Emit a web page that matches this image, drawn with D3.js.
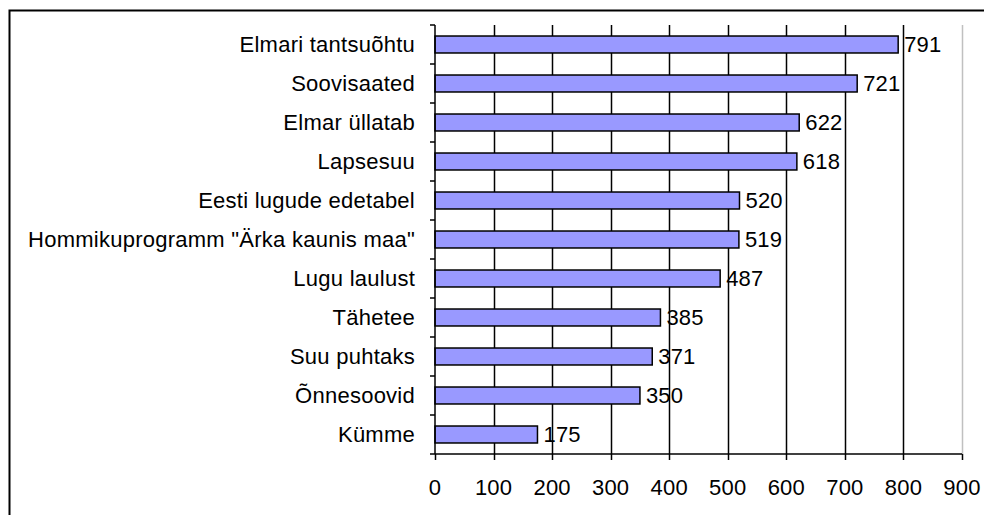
<!DOCTYPE html>
<html>
<head>
<meta charset="utf-8">
<script src="https://cdn.jsdelivr.net/npm/d3@7"></script>
<style>
  body { margin: 0; background: #fff; }
  svg { display: block; font-family: "Liberation Sans", Arial, sans-serif; }
</style>
</head>
<body>
<svg id="chart" width="984" height="515"></svg>
<script>
"use strict";

var categories = [
  "Elmari tantsuõhtu",
  "Soovisaated",
  "Elmar üllatab",
  "Lapsesuu",
  "Eesti lugude edetabel",
  "Hommikuprogramm \"Ärka kaunis maa\"",
  "Lugu laulust",
  "Tähetee",
  "Suu puhtaks",
  "Õnnesoovid",
  "Kümme"
];
var values = [791, 721, 622, 618, 520, 519, 487, 385, 371, 350, 175];
var xTicks = [0, 100, 200, 300, 400, 500, 600, 700, 800, 900];

var svg = d3.select("#chart");
var fontSize = 22;

// outer frame, runs off the right and bottom edge like the source
svg.append("path")
  .attr("d", "M9.5,1000 L9.5,10.5 L1000,10.5")
  .attr("fill", "none")
  .attr("stroke", "#000")
  .attr("stroke-width", 2);

var plotLeft = 435, plotRight = 962, plotTop = 25, plotBottom = 454;

var x = d3.scaleLinear().domain([0, 900]).range([plotLeft, plotRight]);
var y = d3.scaleBand().domain(categories).range([plotTop, plotBottom])
  .paddingInner(0.565).paddingOuter(0.2825);

// gridlines
svg.append("g").selectAll("line")
  .data(xTicks.slice(1))
  .enter().append("line")
  .attr("x1", function(d) { return Math.round(x(d)) + 0.5; })
  .attr("x2", function(d) { return Math.round(x(d)) + 0.5; })
  .attr("y1", plotTop)
  .attr("y2", plotBottom)
  .attr("stroke", function(d) { return d === 900 ? "#c0c0c0" : "#000"; })
  .attr("stroke-width", 1.5);

// bars
svg.append("g").selectAll("rect")
  .data(values)
  .enter().append("rect")
  .attr("x", x(0))
  .attr("y", function(d, i) { return y(categories[i]); })
  .attr("width", function(d) { return x(d) - x(0); })
  .attr("height", y.bandwidth())
  .attr("fill", "#9999ff")
  .attr("stroke", "#000")
  .attr("stroke-width", 1.5);

// value labels
svg.append("g").selectAll("text")
  .data(values)
  .enter().append("text")
  .attr("x", function(d) { return x(d) + 6; })
  .attr("y", function(d, i) { return y(categories[i]) + y.bandwidth() / 2; })
  .attr("dy", "0.36em")
  .attr("font-size", fontSize)
  .attr("letter-spacing", "0.2px")
  .text(function(d) { return d; });

// y axis
var yAxis = svg.append("g")
  .attr("transform", "translate(" + plotLeft + ",0)");
yAxis.append("line")
  .attr("x1", 0).attr("x2", 0)
  .attr("y1", plotTop).attr("y2", plotBottom)
  .attr("stroke", "#000").attr("stroke-width", 1.5);
var bandStep = (plotBottom - plotTop) / categories.length;
yAxis.selectAll(".tick")
  .data(d3.range(categories.length + 1))
  .enter().append("line")
  .attr("x1", -5).attr("x2", 0)
  .attr("y1", function(i) { return plotTop + i * bandStep; })
  .attr("y2", function(i) { return plotTop + i * bandStep; })
  .attr("stroke", "#000").attr("stroke-width", 1.5);
yAxis.selectAll("text")
  .data(categories)
  .enter().append("text")
  .attr("x", -20)
  .attr("y", function(d) { return y(d) + y.bandwidth() / 2; })
  .attr("dy", "0.36em")
  .attr("text-anchor", "end")
  .attr("font-size", fontSize)
  .attr("letter-spacing", "0.25px")
  .text(function(d) { return d; });

// x axis
var xAxis = svg.append("g")
  .attr("transform", "translate(0," + plotBottom + ")");
xAxis.append("line")
  .attr("x1", plotLeft).attr("x2", plotRight)
  .attr("stroke", "#000").attr("stroke-width", 1.5);
xAxis.selectAll(".tick")
  .data(xTicks)
  .enter().append("line")
  .attr("x1", function(d) { return Math.round(x(d)) + 0.5; })
  .attr("x2", function(d) { return Math.round(x(d)) + 0.5; })
  .attr("y1", 0).attr("y2", 6)
  .attr("stroke", "#000").attr("stroke-width", 1.5);
xAxis.selectAll("text")
  .data(xTicks)
  .enter().append("text")
  .attr("x", function(d) { return x(d); })
  .attr("y", 41)
  .attr("text-anchor", "middle")
  .attr("font-size", fontSize)
  .attr("letter-spacing", "0.2px")
  .text(function(d) { return d; });
</script>
</body>
</html>
